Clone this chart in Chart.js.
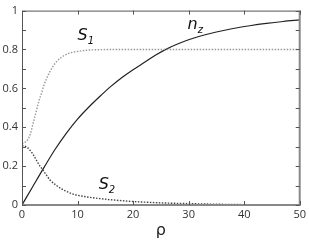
<!DOCTYPE html>
<html>
<head>
<meta charset="utf-8">
<script src="https://cdn.jsdelivr.net/npm/chart.js@4.4.1/dist/chart.umd.min.js"></script>
<style>
  html, body { margin: 0; padding: 0; background: #fff; }
  #wrap { width: 309px; height: 240px; }
</style>
</head>
<body>
<div id="wrap"><canvas id="c" width="309" height="240"></canvas></div>
<script>
// rho samples and curve values
const rhoS1 = [0, 0.5, 1, 1.5, 2, 2.5, 3, 3.5, 4, 4.5, 5, 5.5, 6, 7, 8, 9, 10, 11, 12, 14, 16, 20, 25, 30, 40, 50];
const s1 = [0.315, 0.322, 0.335, 0.365, 0.42, 0.475, 0.53, 0.575, 0.62, 0.655, 0.685, 0.71, 0.73, 0.758, 0.775, 0.785, 0.79, 0.794, 0.797, 0.799, 0.8, 0.8, 0.8, 0.8, 0.8, 0.8];

const rhoS2 = [0, 0.5, 1, 1.5, 2, 2.5, 3, 3.5, 4, 4.5, 5, 6, 7, 8, 9, 10, 12, 14, 16, 18, 20, 25, 30, 35, 40, 50];
const s2 = [0.305, 0.303, 0.295, 0.28, 0.26, 0.235, 0.21, 0.19, 0.17, 0.15, 0.13, 0.105, 0.085, 0.07, 0.058, 0.05, 0.04, 0.033, 0.027, 0.022, 0.018, 0.011, 0.007, 0.004, 0.002, 0];

const rhoN = [0, 2, 4, 6, 8, 10, 12, 14, 16, 18, 20, 22, 24, 26, 28, 30, 32, 35, 38, 41, 44, 47, 50];
const nz = [0, 0.098, 0.195, 0.288, 0.37, 0.442, 0.503, 0.558, 0.61, 0.656, 0.696, 0.733, 0.77, 0.802, 0.828, 0.85, 0.868, 0.89, 0.908, 0.922, 0.934, 0.944, 0.952];

const xTicks = [0, 10, 20, 30, 40, 50];
const yTicks = [0, 0.2, 0.4, 0.6, 0.8, 1];

// curve labels: [main, subscript, rho, value]
const curveLabels = [
  ['S', '1', 10.0, 0.85],
  ['n', 'z', 29.8, 0.905],
  ['S', '2', 13.8, 0.08]
];

const pts = (xs, ys) => xs.map((x, i) => ({ x: x, y: ys[i] }));

const frameAndTicks = {
  id: 'frameAndTicks',
  afterDraw(chart) {
    const ctx = chart.ctx;
    const a = chart.chartArea;
    const xs = chart.scales.x, ys = chart.scales.y;
    ctx.save();
    // frame
    ctx.strokeStyle = '#555';
    ctx.lineWidth = 1;
    ctx.beginPath();
    ctx.moveTo(a.left + 0.5, a.bottom);
    ctx.lineTo(a.left + 0.5, a.top + 0.5);
    ctx.lineTo(a.right, a.top + 0.5);
    ctx.stroke();
    ctx.strokeStyle = '#888';
    ctx.lineWidth = 2;
    ctx.beginPath();
    ctx.moveTo(a.left, a.bottom);
    ctx.lineTo(a.right, a.bottom);
    ctx.lineTo(a.right, a.top);
    ctx.stroke();
    // inward ticks
    ctx.strokeStyle = '#555';
    ctx.lineWidth = 1;
    ctx.beginPath();
    xTicks.forEach(v => {
      const px = Math.round(xs.getPixelForValue(v)) + 0.5;
      ctx.moveTo(px, a.bottom); ctx.lineTo(px, a.bottom - 4);
      ctx.moveTo(px, a.top); ctx.lineTo(px, a.top + 4);
    });
    for (let k = 0; k <= 10; k++) {
      const py = Math.round(ys.getPixelForValue(k / 10)) + 0.5;
      ctx.moveTo(a.left, py); ctx.lineTo(a.left + 4, py);
      ctx.moveTo(a.right, py); ctx.lineTo(a.right - 4, py);
    }
    ctx.stroke();
    // curve labels
    ctx.fillStyle = '#111';
    ctx.textBaseline = 'alphabetic';
    curveLabels.forEach(([m, s, rx, ry]) => {
      const px = xs.getPixelForValue(rx);
      const py = ys.getPixelForValue(ry);
      ctx.font = 'italic 16px "DejaVu Sans"';
      ctx.fillText(m, px, py);
      const w = ctx.measureText(m).width;
      ctx.font = 'italic 10px "DejaVu Sans"';
      ctx.fillText(s, px + w, py + 4);
    });
    ctx.restore();
  }
};

new Chart(document.getElementById('c'), {
  type: 'line',
  data: {
    datasets: [
      { label: 'S1', data: pts(rhoS1, s1), borderColor: '#999', borderWidth: 1.4, borderDash: [1.5, 1.5] },
      { label: 'S2', data: pts(rhoS2, s2), borderColor: '#444', borderWidth: 1.4, borderDash: [1.5, 1.5] },
      { label: 'nz', data: pts(rhoN, nz), borderColor: '#222', borderWidth: 1.2 }
    ]
  },
  options: {
    responsive: false,
    animation: false,
    parsing: false,
    layout: { padding: { top: 5, right: 0, left: 0, bottom: 0 } },
    elements: {
      point: { radius: 0 },
      line: { cubicInterpolationMode: 'monotone', fill: false }
    },
    plugins: { legend: { display: false }, tooltip: { enabled: false } },
    scales: {
      x: {
        type: 'linear', min: 0, max: 50,
        afterBuildTicks: s => { s.ticks = xTicks.map(v => ({ value: v })); },
        afterFit: s => { s.height = 35; },
        grid: { display: false, drawTicks: false },
        border: { display: false },
        ticks: { color: '#333', padding: 3, font: { family: '"Open Sans"', size: 11 }, maxRotation: 0 },
        title: { display: true, text: 'ρ', color: '#222', padding: 0, font: { family: '"DejaVu Sans"', size: 16 } }
      },
      y: {
        type: 'linear', min: 0, max: 1,
        afterBuildTicks: s => { s.ticks = yTicks.map(v => ({ value: v })); },
        afterFit: s => { s.width = 22; },
        grid: { display: false, drawTicks: false },
        border: { display: false },
        ticks: { color: '#333', padding: 4, font: { family: '"Open Sans"', size: 11 },
          callback: v => String(v) }
      }
    }
  },
  plugins: [frameAndTicks]
});
</script>
</body>
</html>
